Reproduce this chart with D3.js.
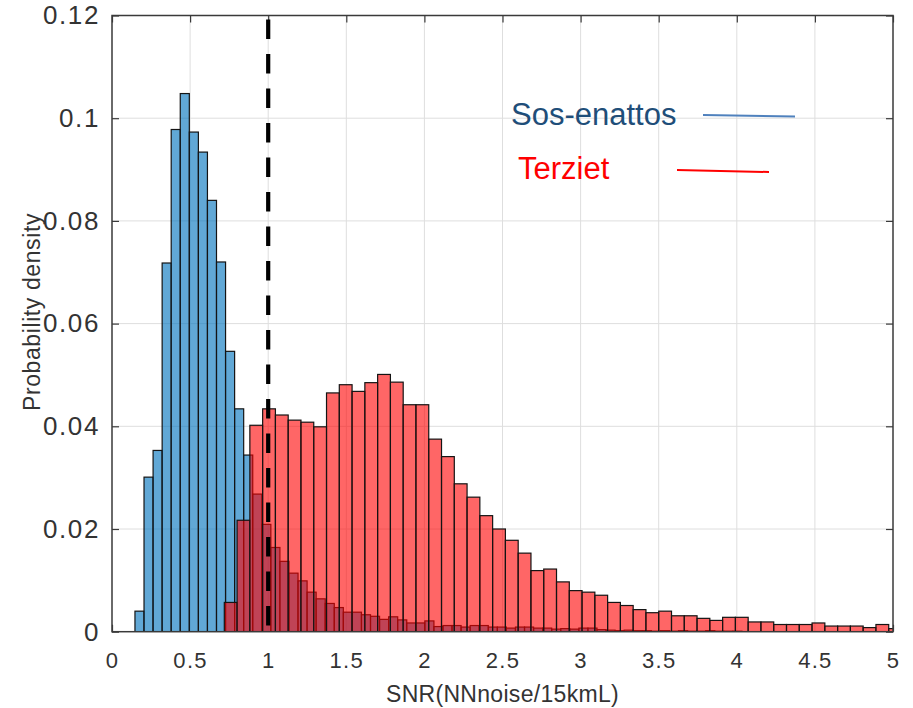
<!DOCTYPE html>
<html>
<head>
<meta charset="utf-8">
<script src="https://cdn.jsdelivr.net/npm/d3@7"></script>
<style>
  html, body { margin: 0; padding: 0; background: #fff; }
  svg { display: block; }
</style>
</head>
<body>
<svg id="chart" width="913" height="708"></svg>
<script>
// SNR histograms (probability density per bin) for two sites.

// Sos-enattos: uniform bins starting at blueBinStart, width blueBinWidth
const blueBinStart = 0.147;
const blueBinWidth = 0.058;
const sosEnattosDensity = [
  0.0040, 0.0301, 0.0353, 0.0718, 0.0978, 0.1048, 0.0973, 0.0934, 0.0840, 0.0720,
  0.0546, 0.0434, 0.0344, 0.0268, 0.0209, 0.0164, 0.0137, 0.0114, 0.0099, 0.0077,
  0.0064, 0.0055, 0.0047, 0.0038, 0.0038, 0.0033, 0.0030, 0.0024, 0.0029, 0.0023,
  0.0017, 0.0017, 0.0021, 0.0010, 0.0012, 0.0012, 0.0009, 0.0012, 0.0012, 0.0009,
  0.0009, 0.0007, 0.0009, 0.0009, 0.0007, 0.0007, 0.0005, 0.0006, 0.0005, 0.0007,
  0.0007, 0.0004, 0.0003, 0.0002, 0.0003, 0.0002, 0.0002, 0.0001, 0.0002, 0.0001,
  0.0002, 0.0001, 0.0001, 0.0002, 0.0001, 0.0001, 0.0001
];

// Terziet: uniform bins starting at redBinStart, width redBinWidth
const redBinStart = 0.719;
const redBinWidth = 0.0818;
const terzietDensity = [
  0.0057, 0.0217, 0.0402, 0.0434, 0.0422, 0.0412, 0.0408, 0.0399, 0.0465, 0.0481,
  0.0468, 0.0485, 0.0501, 0.0486, 0.0442, 0.0442, 0.0375, 0.0341, 0.0288, 0.0262,
  0.0226, 0.0200, 0.0178, 0.0153, 0.0119, 0.0122, 0.0097, 0.0080, 0.0077, 0.0071,
  0.0057, 0.0051, 0.0043, 0.0037, 0.0040, 0.0031, 0.0031, 0.0026, 0.0022, 0.0028,
  0.0028, 0.0019, 0.0019, 0.0014, 0.0014, 0.0014, 0.0017, 0.0011, 0.0011, 0.0011,
  0.0008, 0.0014, 0.0006
];

const xTicks = [0, 0.5, 1, 1.5, 2, 2.5, 3, 3.5, 4, 4.5, 5];
const xTickLabels = ["0", "0.5", "1", "1.5", "2", "2.5", "3", "3.5", "4", "4.5", "5"];
const yTicks = [0, 0.02, 0.04, 0.06, 0.08, 0.1, 0.12];
const yTickLabels = ["0", "0.02", "0.04", "0.06", "0.08", "0.1", "0.12"];
const xDomain = [0, 5];
const yDomain = [0, 0.12];
const snrThreshold = 1;

const seriesNames = ["Sos-enattos", "Terziet"];
const xAxisTitle = "SNR(NNnoise/15kmL)";
const yAxisTitle = "Probability density";

// ---- layout ----
const plot = { left: 112, right: 893, top: 15.5, bottom: 631.7 };

const svg = d3.select("#chart");
const x = d3.scaleLinear().domain(xDomain).range([plot.left, plot.right]);
const y = d3.scaleLinear().domain(yDomain).range([plot.bottom, plot.top]);

svg.append("rect").attr("width", 913).attr("height", 708).attr("fill", "#fff");

svg.append("defs").append("clipPath").attr("id", "plot-clip")
  .append("rect")
  .attr("x", plot.left).attr("y", plot.top)
  .attr("width", plot.right - plot.left).attr("height", plot.bottom - plot.top);

// grid
const grid = svg.append("g").attr("stroke", "#dedede").attr("stroke-width", 1);
grid.selectAll("line.gx").data(xTicks.slice(1, -1)).join("line")
  .attr("x1", d => x(d)).attr("x2", d => x(d))
  .attr("y1", plot.top).attr("y2", plot.bottom);
grid.selectAll("line.gy").data(yTicks.slice(1, -1)).join("line")
  .attr("x1", plot.left).attr("x2", plot.right)
  .attr("y1", d => y(d)).attr("y2", d => y(d));

// inward ticks on all four sides, no labels on top/right
const tickLen = 7;
const axisStyle = g => {
  g.select(".domain").remove();
  g.selectAll(".tick line").attr("stroke", "#3a3a3a").attr("stroke-width", 1.2);
};
svg.append("g").attr("transform", `translate(0,${plot.top})`)
  .call(d3.axisTop(x).tickValues(xTicks).tickSize(-tickLen).tickFormat(""))
  .call(axisStyle);
svg.append("g").attr("transform", `translate(${plot.right},0)`)
  .call(d3.axisRight(y).tickValues(yTicks).tickSize(-tickLen).tickFormat(""))
  .call(axisStyle);

// histogram bars
const bars = svg.append("g").attr("clip-path", "url(#plot-clip)");

const blueBins = sosEnattosDensity.map((v, i) => ({
  x0: blueBinStart + i * blueBinWidth,
  x1: blueBinStart + (i + 1) * blueBinWidth,
  v
}));
const redBins = terzietDensity.map((v, i) => ({
  x0: redBinStart + i * redBinWidth,
  x1: redBinStart + (i + 1) * redBinWidth,
  v
}));

bars.append("g").selectAll("rect").data(blueBins).join("rect")
  .attr("x", d => x(d.x0)).attr("width", d => x(d.x1) - x(d.x0))
  .attr("y", d => y(d.v)).attr("height", d => y(0) - y(d.v))
  .attr("fill", "rgb(0,114,189)").attr("fill-opacity", 0.62)
  .attr("stroke", "#141414").attr("stroke-width", 1.2);

bars.append("g").selectAll("rect").data(redBins).join("rect")
  .attr("x", d => x(d.x0)).attr("width", d => x(d.x1) - x(d.x0))
  .attr("y", d => y(d.v)).attr("height", d => y(0) - y(d.v))
  .attr("fill", "rgb(255,0,0)").attr("fill-opacity", 0.6)
  .attr("stroke", "#141414").attr("stroke-width", 1.2);

// threshold line at SNR = 1
svg.append("line")
  .attr("x1", x(snrThreshold)).attr("x2", x(snrThreshold))
  .attr("y1", plot.top).attr("y2", plot.bottom)
  .attr("stroke", "#000").attr("stroke-width", 4.2)
  .attr("stroke-dasharray", "19.5 15").attr("stroke-dashoffset", 30.5);

// axes box
svg.append("rect")
  .attr("x", plot.left).attr("y", plot.top)
  .attr("width", plot.right - plot.left).attr("height", plot.bottom - plot.top)
  .attr("fill", "none").attr("stroke", "#3a3a3a").attr("stroke-width", 1.5);

// bottom and left axes with labels
const xAxis = svg.append("g").attr("transform", `translate(0,${plot.bottom})`)
  .call(d3.axisBottom(x).tickValues(xTicks).tickSize(-tickLen).tickPadding(21)
    .tickFormat((d, i) => xTickLabels[i]))
  .call(axisStyle);
xAxis.selectAll(".tick line").filter(d => d > 0 && d < 5).attr("opacity", 0);
xAxis.selectAll(".tick text")
  .attr("fill", "#333").attr("font-family", "'Liberation Sans', Arial, sans-serif")
  .attr("font-size", 22).attr("letter-spacing", 1.3);

const yAxis = svg.append("g").attr("transform", `translate(${plot.left},0)`)
  .call(d3.axisLeft(y).tickValues(yTicks).tickSize(-tickLen).tickPadding(12)
    .tickFormat((d, i) => yTickLabels[i]))
  .call(axisStyle);
yAxis.selectAll(".tick text")
  .attr("fill", "#333").attr("font-family", "'Liberation Sans', Arial, sans-serif")
  .attr("font-size", 26).attr("letter-spacing", 1.6);

// axis titles
svg.append("text")
  .attr("x", (plot.left + plot.right) / 2).attr("y", 702)
  .attr("text-anchor", "middle")
  .attr("fill", "#333").attr("font-family", "'Liberation Sans', Arial, sans-serif")
  .attr("font-size", 23).attr("letter-spacing", 0.3)
  .text(xAxisTitle);

svg.append("text")
  .attr("transform", "translate(40,312) rotate(-90)")
  .attr("text-anchor", "middle")
  .attr("fill", "#333").attr("font-family", "'Liberation Sans', Arial, sans-serif")
  .attr("font-size", 23).attr("letter-spacing", 0.6)
  .text(yAxisTitle);

// legend
const legend = svg.append("g").attr("font-family", "'Liberation Sans', Arial, sans-serif")
  .attr("font-size", 31);
legend.append("text").attr("x", 511).attr("y", 125).attr("fill", "#1f4e79").text(seriesNames[0]);
legend.append("line").attr("x1", 703).attr("y1", 115).attr("x2", 795).attr("y2", 116.5)
  .attr("stroke", "#4f81bd").attr("stroke-width", 2);
legend.append("text").attr("x", 518).attr("y", 179).attr("fill", "#ff0000").text(seriesNames[1]);
legend.append("line").attr("x1", 677).attr("y1", 170).attr("x2", 769).attr("y2", 172)
  .attr("stroke", "#ff0000").attr("stroke-width", 2);
</script>
</body>
</html>
